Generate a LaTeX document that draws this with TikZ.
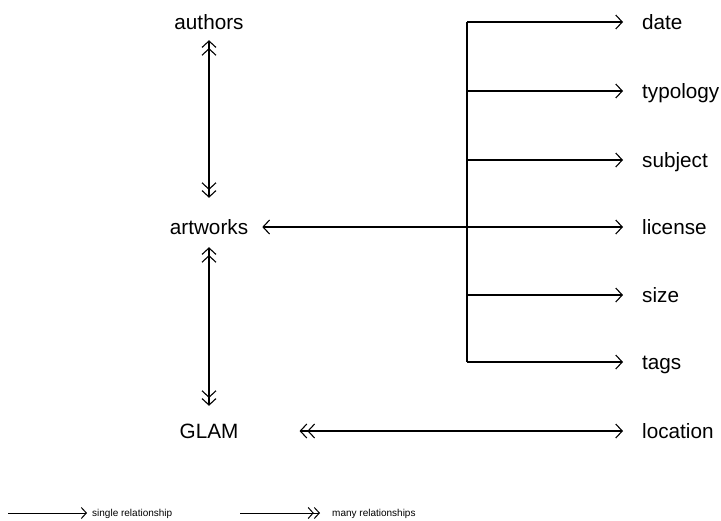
\documentclass[tikz,border=0pt]{standalone}
\usepackage{fontspec}
\setmainfont{Liberation Sans}
\usetikzlibrary{arrows.meta}
\tikzset{
  one/.tip={Straight Barb[length=6.5pt,width=14pt]},
  many/.tip={Straight Barb[length=6.5pt,width=14pt]Straight Barb[length=6.5pt,width=14pt]},
  smallone/.tip={Straight Barb[length=5pt,width=11pt]},
  smallmany/.tip={Straight Barb[length=5pt,width=11pt]Straight Barb[length=5pt,width=11pt]},
  lbl/.style={inner sep=0pt,font=\fontsize{20.7}{24}\selectfont,text height=14.8pt,text depth=0pt},
  leg/.style={inner sep=0pt,anchor=west,font=\fontsize{10}{12}\selectfont,text height=7.2pt,text depth=0pt},
  conn/.style={line width=1.1pt},
  legconn/.style={line width=1pt},
}
\begin{document}
\begin{tikzpicture}[x=1pt,y=-1pt]
\useasboundingbox (0,0) rectangle (721,520);
% left column
\node[lbl] (authors) at (209,22) {authors};
\node[lbl] (artworks) at (209,227) {artworks};
\node[lbl] (glam) at (209,431) {GLAM};
% right column
\node[lbl,anchor=west] (date) at (642,22) {date};
\node[lbl,anchor=west] (typology) at (642,91) {typology};
\node[lbl,anchor=west] (subject) at (642,160) {subject};
\node[lbl,anchor=west] (license) at (642,227) {license};
\node[lbl,anchor=west] (size) at (642,295) {size};
\node[lbl,anchor=west] (tags) at (642,362) {tags};
\node[lbl,anchor=west] (location) at (642,431) {location};
% trunk
\coordinate (t1) at (467,22);
\coordinate (t2) at (467,91);
\coordinate (t3) at (467,160);
\coordinate (t5) at (467,295);
\coordinate (t6) at (467,362);
\draw[conn] (t1) -- (t6);
\draw[conn,-{one}] (t1) -- ([xshift=-19pt]date.west);
\draw[conn,-{one}] (t2) -- ([xshift=-19pt]typology.west);
\draw[conn,-{one}] (t3) -- ([xshift=-19pt]subject.west);
\draw[conn,-{one}] (t5) -- ([xshift=-19pt]size.west);
\draw[conn,-{one}] (t6) -- ([xshift=-19pt]tags.west);
% relations
\draw[conn,{many}-{many},shorten <=10.6pt,shorten >=21.6pt] (authors.south) -- (artworks.north);
\draw[conn,{many}-{many},shorten <=12.6pt,shorten >=17.6pt] (artworks.south) -- (glam.north);
\draw[conn,{one}-{one},shorten <=14pt,shorten >=19pt] (artworks.east) -- (license.west);
\draw[conn,{many}-{one},shorten <=61pt,shorten >=19pt] (glam.east) -- (location.west);
% legend
\node[leg] (single) at (92,513) {single relationship};
\node[leg] (manyrel) at (332,513) {many relationships};
\coordinate (s0) at (8,513);
\coordinate (m0) at (240,513);
\draw[legconn,-{smallone}] (s0) -- ([xshift=-5pt]single.west);
\draw[legconn,-{smallmany}] (m0) -- ([xshift=-12pt]manyrel.west);
\end{tikzpicture}
\end{document}
